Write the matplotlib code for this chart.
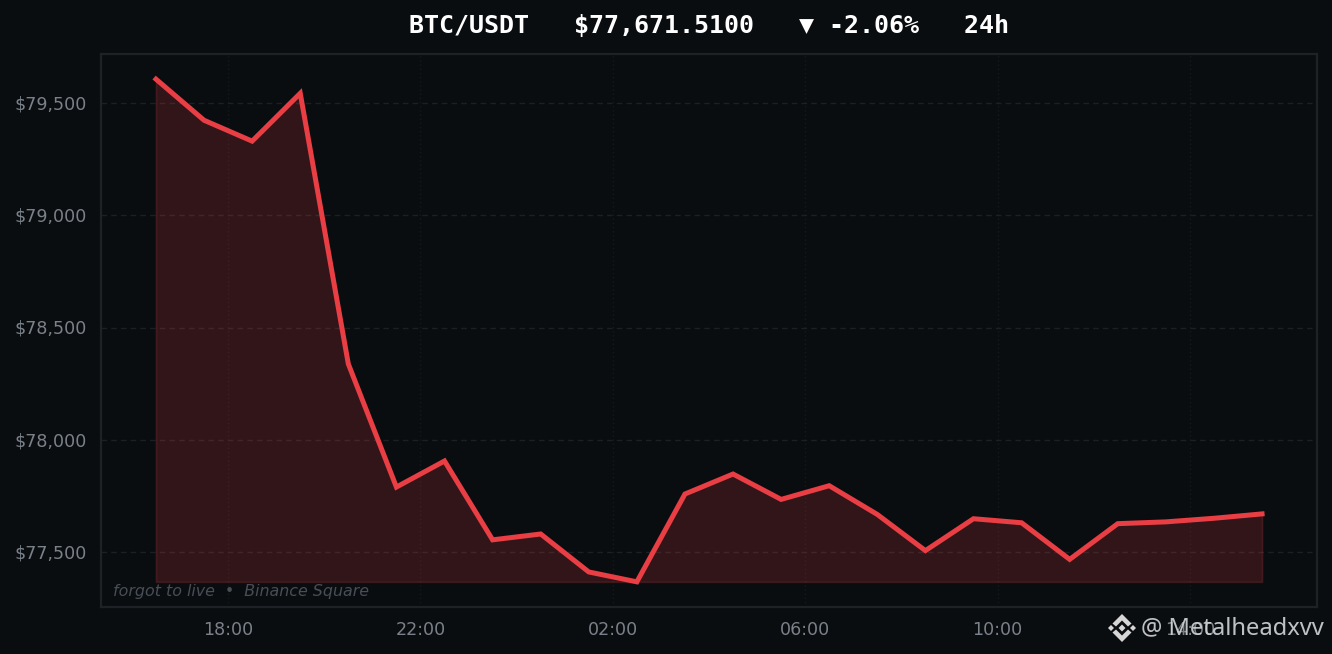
import matplotlib
matplotlib.use("Agg")
import matplotlib.pyplot as plt
import numpy as np
from matplotlib.patches import Polygon
from matplotlib.transforms import ScaledTranslation

# hours since midnight of the first day, hourly samples
hours = [16.5, 17.5, 18.5, 19.5, 20.5, 21.5, 22.5, 23.5, 24.5, 25.5, 26.5, 27.5,
         28.5, 29.5, 30.5, 31.5, 32.5, 33.5, 34.5, 35.5, 36.5, 37.5, 38.5, 39.5]
prices = [79607, 79424, 79331, 79544, 78339, 77791, 77907, 77556, 77582, 77413, 77369, 77760,
          77849, 77736, 77797, 77669, 77508, 77650, 77632, 77469, 77628, 77636, 77652, 77671.51]
price_ticks = [77500, 78000, 78500, 79000, 79500]
hour_ticks = [18, 22, 26, 30, 34, 38]
hour_labels = ["18:00", "22:00", "02:00", "06:00", "10:00", "14:00"]

BG = "#0a0d10"
RED = "#e83e44"
TICK = "#7b818a"

fig, ax = plt.subplots(figsize=(13.32, 6.54), dpi=100)
fig.patch.set_facecolor(BG)
ax.set_facecolor(BG)
fig.subplots_adjust(left=101 / 1332, right=1317 / 1332, top=1 - 54 / 654, bottom=1 - 607 / 654)

low = min(prices)
ax.fill_between(hours, prices, low, color=RED, alpha=0.18, linewidth=1.2, zorder=2)
ax.plot(hours, prices, color=RED, linewidth=3.6, solid_joinstyle="miter", zorder=3)

ax.set_xlim(15.357, 40.643)
ax.set_ylim(low - 112, max(prices) + 112)

ax.set_yticks(price_ticks, [f"${p:,}" for p in price_ticks])
ax.set_xticks(hour_ticks, hour_labels)
ax.tick_params(axis="y", length=0, labelsize=12.6, labelcolor=TICK, pad=10.5)
ax.tick_params(axis="x", length=0, labelsize=12.6, labelcolor=TICK, pad=10)
# y labels sit one pixel higher than matplotlib centres them
for label in ax.get_yticklabels():
    label.set_transform(label.get_transform() + ScaledTranslation(0, 1 / 100, fig.dpi_scale_trans))
ax.grid(axis="y", color="#1c2024", linewidth=1, linestyle=(0, (4, 3)), zorder=1)
ax.grid(axis="x", color="#15191d", linewidth=1, linestyle=(0, (1, 2)), zorder=1)
ax.set_axisbelow(True)
for spine in ax.spines.values():
    spine.set_color("#1e2226")
    spine.set_linewidth(1.6)

ax.text(113 / 1332, 1 - 591.5 / 654, "forgot to live  •  Binance Square", transform=fig.transFigure,
        fontsize=11.4, style="italic", color="#484e56", ha="left", va="center", zorder=4)

fig.text(709 / 1332, 1 - 26 / 654, "BTC/USDT   $77,671.5100   ▼ -2.06%   24h",
         family="DejaVu Sans Mono", fontweight="bold", fontsize=18, color="white",
         ha="center", va="center")

# watermark, sits on top of the last tick label
fig.text(1141 / 1332, 1 - 628 / 654, "@ Metalheadxvv", family="Noto Sans", fontsize=17.1,
         color="#d4d5d6", alpha=0.9, ha="left", va="center", zorder=10)


def diamond(cx, cy, r):
    pts = [(cx - r, cy), (cx, cy - r), (cx + r, cy), (cx, cy + r)]
    return [(x / 1332, 1 - y / 654) for x, y in pts]


for cx, cy, r in [(1122, 628, 3.5), (1111, 628, 3), (1133, 628, 3)]:
    fig.add_artist(Polygon(diamond(cx, cy, r), closed=True, transform=fig.transFigure,
                           facecolor="#d6d6d6", edgecolor="none", zorder=10))
# upper and lower chevrons of the logo
for sign in (-1, 1):
    chevron = [(1122 - 9.5, 628 + sign * 4.5), (1122, 628 + sign * 14), (1122 + 9.5, 628 + sign * 4.5),
               (1122 + 6, 628 + sign * 1.5), (1122, 628 + sign * 7.5), (1122 - 6, 628 + sign * 1.5)]
    fig.add_artist(Polygon([(x / 1332, 1 - y / 654) for x, y in chevron], closed=True,
                           transform=fig.transFigure, facecolor="#d6d6d6", edgecolor="none", zorder=10))

fig.savefig("out.png", dpi=100, facecolor=fig.get_facecolor())
plt.close(fig)
